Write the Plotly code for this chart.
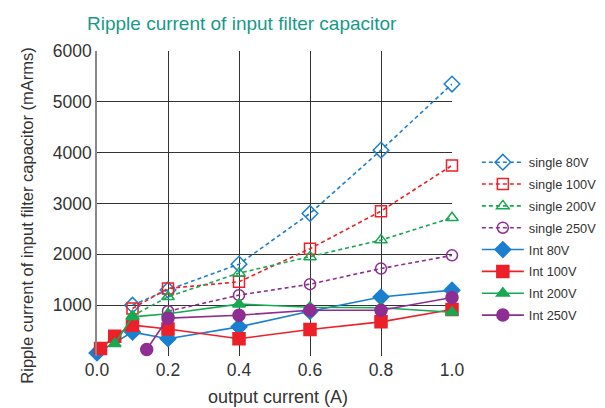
import plotly.graph_objects as go

# ---- data ----
x_single80 = [0.1, 0.2, 0.4, 0.6, 0.8, 1.0]
y_single80 = [1000, 1300, 1807, 2805, 4050, 5350]
x_single100 = [0.1, 0.2, 0.4, 0.6, 0.8, 1.0]
y_single100 = [935, 1330, 1460, 2110, 2850, 3750]
x_single200 = [0.1, 0.2, 0.4, 0.6, 0.8, 1.0]
y_single200 = [790, 1165, 1630, 1950, 2280, 2720]
x_single250 = [0.2, 0.4, 0.6, 0.8, 1.0]
y_single250 = [880, 1197, 1413, 1720, 1980]
x_int80 = [0.0, 0.1, 0.2, 0.4, 0.6, 0.8, 1.0]
y_int80 = [60, 470, 340, 573, 880, 1160, 1295]
x_int100 = [0.01, 0.05, 0.1, 0.2, 0.4, 0.6, 0.8, 1.0]
y_int100 = [147, 390, 606, 530, 340, 522, 672, 915]
x_int200 = [0.05, 0.1, 0.2, 0.4, 0.6, 0.8, 1.0]
y_int200 = [240, 770, 830, 1020, 960, 950, 860]
x_int250 = [0.14, 0.2, 0.4, 0.6, 0.8, 1.0]
y_int250 = [128, 745, 803, 900, 900, 1150]

x_ticks = [0.0, 0.2, 0.4, 0.6, 0.8, 1.0]
x_ticklabels = ["0.0", "0.2", "0.4", "0.6", "0.8", "1.0"]
y_ticks = [1000, 2000, 3000, 4000, 5000, 6000]

BLUE = "#1b7fd0"
RED = "#ec2029"
GREEN = "#17a852"
PURPLE = "#8e2d92"

fig = go.Figure()

series = [
    ("single 80V", x_single80, y_single80, BLUE, "diamond-open", 12, True),
    ("single 100V", x_single100, y_single100, RED, "square-open", 11, True),
    ("single 200V", x_single200, y_single200, GREEN, "triangle-up-open", 11, True),
    ("single 250V", x_single250, y_single250, PURPLE, "circle-open", 11, True),
    ("Int 80V", x_int80, y_int80, BLUE, "diamond", 12, False),
    ("Int 100V", x_int100, y_int100, RED, "square", 12, False),
    ("Int 200V", x_int200, y_int200, GREEN, "triangle-up", 11, False),
    ("Int 250V", x_int250, y_int250, PURPLE, "circle", 12, False),
]

for name, xs, ys, col, sym, sz, dashed in series:
    fig.add_trace(go.Scatter(
        x=xs, y=ys, name=name, mode="lines+markers", legendgroup=name,
        line=dict(color=col, width=1.6, dash="4px,3px" if dashed else "solid"),
        marker=dict(symbol=sym, size=sz, color=col,
                    line=dict(color=col, width=1.5)),
        cliponaxis=False,
    ))

# page body has an 8px margin: figure is placed at (8,8)
fig.update_layout(
    width=597, height=400,
    margin=dict(l=89, r=153, t=43, b=52, autoexpand=False),
    paper_bgcolor="white", plot_bgcolor="white",
    font=dict(family="Liberation Sans, Arial, sans-serif", color="#333333", size=17.5),
    showlegend=True,
    legend=dict(x=1.07, y=0.684, xanchor="left", yanchor="top",
                font=dict(size=12.8, color="#333333"), traceorder="grouped",
                bgcolor="rgba(0,0,0,0)", tracegroupgap=2.2, itemwidth=42),
    annotations=[
        dict(text="Ripple current of input filter capacitor", xref="paper", yref="paper",
             x=0.408, y=1.0, yshift=28, xanchor="center", yanchor="middle",
             showarrow=False, font=dict(size=19, color="#17998a")),
        dict(text="Ripple current of input filter capacitor (mArms)", xref="paper", yref="paper",
             x=0, xshift=-70, y=0.46, xanchor="center", yanchor="middle", textangle=-90,
             showarrow=False, font=dict(size=16.5, color="#333333")),
        dict(text="output current (A)", xref="paper", yref="paper",
             x=0.51, y=0, yshift=-41, xanchor="center", yanchor="middle",
             showarrow=False, font=dict(size=18, color="#333333")),
    ],
)

fig.update_xaxes(
    range=[0, 1.0], tickvals=x_ticks, ticktext=x_ticklabels,
    showgrid=True, gridcolor="#333333", gridwidth=1,
    showline=False, zeroline=False, ticks="", automargin=False,
    ticklabelstandoff=1,
)
fig.update_yaxes(
    range=[0, 6000], tickvals=y_ticks,
    showgrid=True, gridcolor="#333333", gridwidth=1,
    showline=True, linecolor="#888888", linewidth=1.5,
    zeroline=False, ticks="", automargin=False, ticklabelstandoff=0,
)

fig.write_html("out.html")
